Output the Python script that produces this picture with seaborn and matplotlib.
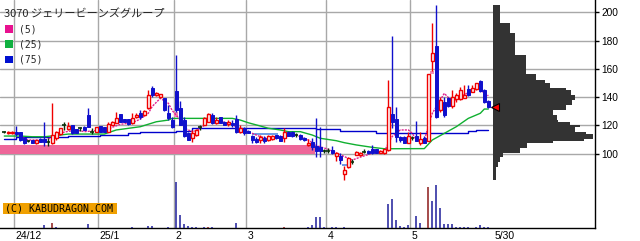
import numpy as np
import pandas as pd
import matplotlib
matplotlib.use("Agg")
import matplotlib.pyplot as plt
import seaborn as sns
from matplotlib.patches import Rectangle

# ---------------- data ----------------
title = "3070 ジェリービーンズグループ"
ma_labels = ["(5)", "(25)", "(75)"]
date_labels = ["24/12", "25/1", "2", "3", "4", "5", "5/30"]
month_start_idx = [3, 24, 43, 61, 81, 102]
last_idx = 121

opens = [115.4, 114.4, 114.5, 115.5, 115.1, 110.9, 109.0, 109.7, 107.4, 110.1,
         110.1, 108.5, 107.5, 110.9, 114.0, 120.3, 117.3, 120.3, 117.3, 118.0,
         119.1, 127.4, 115.6, 115.6, 119.6, 118.7, 115.6, 120.3, 121.9, 128.1,
         124.3, 124.3, 121.5, 125.7, 128.6, 127.4, 132.1, 146.3, 141.8, 140.0,
         139.3, 128.6, 123.8, 144.7, 132.0, 123.5, 115.0, 110.9, 113.2, 119.1,
         120.3, 122.6, 127.4, 121.5, 125.7, 122.6, 121.0, 121.9, 124.3, 115.6,
         118.0, 116.1, 112.7, 110.4, 109.7, 110.9, 109.7, 110.2, 113.0, 112.5,
         110.9, 115.6, 115.6, 113.2, 113.2, 111.3, 105.9, 108.5, 105.4, 104.5,
         102.1, 102.1, 102.6, 98.4, 98.4, 85.6, 90.8, 94.4, 99.1, 98.8,
         101.4, 101.9, 103.1, 103.1, 100.7, 100.3, 102.6, 128.1, 124.6, 111.6,
         112.0, 107.8, 111.3, 112.5, 107.4, 110.9, 109.2, 165.8, 176.2, 130.9,
         136.8, 139.2, 133.8, 138.5, 138.5, 139.7, 145.6, 143.9, 145.6, 151.7,
         145.1, 137.5]
highs = [116.2, 116.0, 116.0, 119.6, 115.5, 111.2, 110.0, 110.0, 110.0, 110.8,
         122.6, 111.0, 135.7, 116.0, 118.3, 122.6, 122.6, 120.6, 117.5, 119.1,
         119.3, 132.6, 118.0, 119.0, 119.9, 119.0, 122.6, 123.0, 129.7, 128.4,
         124.8, 124.6, 129.1, 129.1, 130.9, 131.0, 145.1, 148.0, 143.5, 142.5,
         139.6, 134.5, 126.2, 170.0, 137.0, 126.0, 115.5, 116.8, 117.5, 120.3,
         126.0, 128.5, 128.6, 126.2, 126.0, 123.0, 123.8, 123.8, 127.4, 120.3,
         119.1, 116.5, 113.2, 112.0, 113.0, 112.5, 113.0, 113.0, 113.2, 113.0,
         118.0, 116.0, 116.0, 114.4, 113.6, 111.8, 110.2, 110.9, 125.0, 119.1,
         103.0, 103.8, 105.4, 101.4, 100.3, 91.3, 97.4, 96.0, 101.8, 101.0,
         103.0, 102.3, 106.1, 103.5, 102.5, 103.5, 152.2, 183.3, 133.3, 112.8,
         112.5, 115.5, 112.5, 123.4, 115.6, 112.5, 156.4, 192.7, 205.2, 140.3,
         140.3, 140.3, 145.1, 142.7, 147.0, 148.6, 148.6, 148.6, 150.3, 152.2,
         145.6, 138.0]
lows = [114.6, 114.2, 114.2, 112.7, 109.0, 107.2, 108.2, 107.6, 107.2, 108.2,
        105.4, 105.4, 107.2, 110.0, 113.5, 116.8, 117.0, 114.2, 114.6, 116.3,
        116.5, 118.8, 114.0, 115.3, 115.3, 115.3, 115.3, 120.0, 121.5, 122.3,
        122.3, 120.5, 120.8, 125.4, 124.3, 127.0, 131.8, 140.4, 141.0, 139.7,
        130.5, 123.8, 118.0, 129.7, 120.0, 111.5, 109.5, 108.6, 112.8, 116.8,
        120.0, 122.3, 121.0, 121.2, 121.6, 120.0, 119.6, 119.1, 114.4, 114.4,
        113.2, 114.9, 107.4, 107.8, 107.4, 107.4, 109.3, 109.8, 110.5, 108.8,
        108.5, 112.2, 112.0, 112.0, 109.8, 109.3, 105.5, 102.6, 97.9, 97.9,
        100.7, 100.3, 99.8, 95.0, 92.7, 81.4, 90.0, 92.7, 98.8, 98.5,
        100.3, 100.0, 99.8, 100.4, 100.4, 100.0, 102.2, 118.0, 108.5, 108.5,
        107.5, 107.5, 110.0, 108.8, 106.4, 107.5, 108.8, 158.7, 125.0, 129.7,
        126.2, 133.3, 132.1, 136.8, 138.0, 139.2, 140.8, 143.4, 145.2, 143.9,
        136.1, 132.5]
closes = [115.4, 115.7, 115.6, 114.2, 109.8, 107.5, 109.0, 107.9, 109.7, 108.5,
          108.3, 108.5, 113.1, 115.6, 118.0, 120.3, 119.6, 114.5, 115.0, 118.0,
          116.8, 119.1, 115.6, 118.7, 115.6, 115.6, 120.8, 122.6, 125.0, 122.6,
          122.6, 120.8, 125.0, 127.4, 126.2, 130.5, 141.6, 141.6, 142.8, 142.1,
          130.9, 125.0, 119.1, 131.0, 120.5, 112.3, 110.0, 114.4, 116.8, 119.1,
          125.5, 128.1, 121.9, 123.8, 121.9, 120.3, 122.6, 120.3, 115.6, 118.0,
          114.4, 114.9, 109.7, 108.5, 112.0, 109.2, 112.5, 112.5, 110.9, 109.2,
          115.6, 112.5, 112.5, 113.2, 110.2, 109.7, 107.8, 104.5, 102.1, 102.1,
          102.1, 102.1, 100.3, 100.7, 95.5, 88.5, 96.7, 94.4, 101.4, 100.7,
          101.4, 100.3, 100.7, 100.7, 102.1, 103.1, 132.8, 122.6, 112.0, 109.7,
          107.8, 112.5, 111.3, 109.2, 110.2, 107.8, 156.4, 171.5, 125.8, 138.0,
          127.4, 133.8, 139.9, 141.5, 145.1, 141.5, 141.5, 146.3, 149.8, 144.6,
          136.8, 132.8]
volumes = [0.5, 0.5, 0.5, 0.5, 0.5, 0.5, 0.5, 0.5, 0.5, 0.5,
           3.0, 0.5, 5.5, 1.0, 0.5, 0.5, 0.5, 0.5, 0.5, 0.5,
           0.5, 4.0, 0.5, 0.5, 0.5, 0.5, 0.5, 0.5, 0.5, 0.5,
           0.5, 0.5, 1.0, 0.5, 0.5, 0.5, 2.5, 2.5, 0.5, 0.5,
           0.5, 1.0, 0.5, 46.0, 13.0, 4.0, 2.0, 1.0, 1.0, 0.5,
           1.0, 1.0, 1.0, 0.5, 0.5, 0.5, 0.5, 0.5, 5.5, 0.5,
           0.5, 0.5, 0.5, 0.5, 0.5, 0.5, 0.5, 0.5, 0.5, 0.5,
           1.0, 0.5, 0.5, 0.5, 0.5, 0.5, 1.0, 3.0, 11.0, 11.0,
           1.0, 0.5, 1.0, 1.0, 0.5, 1.0, 0.5, 0.5, 0.5, 0.5,
           0.5, 0.5, 0.5, 0.5, 0.5, 0.5, 24.0, 29.0, 8.0, 2.0,
           1.0, 3.0, 0.5, 12.0, 5.5, 0.5, 41.0, 27.0, 43.0, 20.0,
           4.5, 4.0, 4.0, 1.5, 1.5, 1.5, 1.5, 0.5, 1.0, 3.0,
           1.5, 1.0]
red_volume_idx = [12, 51, 70, 106]

ma5_idx = [4, 6, 8, 10, 11, 13, 15, 18, 20, 23, 25, 27, 29, 32, 34, 36, 37, 39, 41, 42,
           44, 45, 47, 48, 50, 51, 54, 56, 58, 60, 62, 64, 66, 69, 71, 73, 76, 78, 81, 83,
           86, 87, 89, 92, 95, 96, 97, 98, 99, 101, 102, 103, 105, 106, 107, 109, 110, 112,
           114, 116, 118, 120, 121]
ma5_val = [112.0, 109.7, 109.7, 109.2, 110.5, 113.2, 115.3, 116.8, 115.6, 116.3, 116.0,
           118.7, 120.8, 121.9, 124.5, 128.6, 133.5, 139.2, 135.7, 130.5, 123.8, 118.0,
           115.6, 116.3, 120.0, 123.5, 122.8, 121.5, 119.1, 116.5, 114.4, 112.0, 110.9,
           110.9, 112.5, 113.2, 109.7, 105.8, 103.1, 100.6, 96.7, 95.5, 97.6, 100.3,
           101.4, 107.5, 112.3, 114.4, 116.8, 116.8, 114.4, 109.7, 109.7, 119.1, 128.6,
           138.0, 142.7, 136.8, 140.3, 143.2, 146.3, 143.2, 141.0]
ma25_idx = [0, 4, 7, 10, 14, 16, 25, 28, 34, 38, 41, 42, 57, 59, 61, 64, 66, 69, 71, 74,
            77, 79, 83, 85, 88, 92, 95, 105, 107, 110, 113, 116, 119, 120, 121]
ma25_val = [112.5, 112.5, 112.0, 112.0, 113.2, 113.9, 113.9, 116.8, 119.1, 122.6, 123.8,
            125.0, 125.0, 123.8, 121.9, 119.6, 118.0, 116.8, 115.6, 115.6, 113.2, 110.9,
            109.2, 107.8, 106.2, 104.5, 103.5, 103.6, 109.7, 114.4, 119.1, 125.0, 128.6,
            131.6, 131.6]
ma75_idx = [0, 3, 4, 16, 24, 31, 34, 37, 43, 47, 78, 84, 93, 116, 118, 121]
ma75_val = [110.2, 111.5, 112.0, 112.7, 113.2, 114.4, 115.1, 115.6, 116.3, 118.0, 117.3,
            116.3, 114.9, 116.3, 116.8, 116.8]

# volume-by-price profile (price band top / bottom, relative volume)
prof_top = [205.0, 192.5, 185.4, 169.8, 156.4, 152.2, 150.0, 146.5, 145.0, 141.5, 138.0,
            134.5, 131.0, 127.4, 124.0, 122.4, 120.3, 118.9, 115.4, 114.0, 110.4, 109.0,
            107.4, 103.8, 100.3, 97.9, 94.3, 90.8]
prof_bot = prof_top[1:] + [81.4]
prof_vol = [7, 17, 22, 33, 43, 52, 57, 73, 78, 82, 79, 73, 60, 64, 65, 77, 87, 82, 93, 100,
            91, 60, 34, 27, 10, 7, 5, 3]

# price windows (gap) markers: (start idx, end idx, low, high)
gaps_down = [(61.8, 68.5, 113.2, 114.9), (84.5, 85.6, 91.3, 92.7)]
gaps_up = [(42.4, 43.5, 126.2, 129.7), (106.5, 107.5, 156.4, 158.7)]
band = (-1.1, 77.7, 99.6, 106.2)
current_price = 132.8

# ---------------- figure ----------------
sns.set_style("white")
plt.rcParams["font.family"] = ["DejaVu Sans"]

W, H = 640, 241
fig = plt.figure(figsize=(W / 100, H / 100), dpi=100)
fig.patch.set_facecolor("white")
ax = fig.add_axes([0, 13 / H, 595 / W, 228 / H])
ax.set_facecolor("white")

# volume twin axis (created first so the price axis keeps its right ticks)
ax2 = ax.twinx()

ax.set_xlim(-1.075, 147.675)
ax.set_ylim(47.42, 208.77)

grid_col = "#A8A8A8"
for v in range(100, 201, 20):
    ax.axhline(v, color=grid_col, lw=1, zorder=0)
for m in month_start_idx:
    ax.axvline(m - 0.5, color=grid_col, lw=1, zorder=0)

# pink band
ax.fill_between([band[0], band[1]], band[2], band[3], color="#EE6699", lw=0, zorder=1)

# gap markers
for x0, x1, lo, hi in gaps_down:
    ax.fill_between([x0, x1], lo, hi, color="#6E9CE8", lw=0, zorder=1.5)
for x0, x1, lo, hi in gaps_up:
    ax.fill_between([x0, x1], lo, hi, color="#F08AB4", lw=0, zorder=1.5)

# moving averages via seaborn
df5 = pd.DataFrame({"i": ma5_idx, "v": ma5_val})
df25 = pd.DataFrame({"i": ma25_idx, "v": ma25_val})
df75 = pd.DataFrame({"i": ma75_idx, "v": ma75_val})
sns.lineplot(data=df75, x="i", y="v", ax=ax, color="#0000CC", lw=1,
             drawstyle="steps-post", estimator=None, zorder=2)
sns.lineplot(data=df25, x="i", y="v", ax=ax, color="#10B030", lw=1,
             estimator=None, zorder=2)
sns.lineplot(data=df5, x="i", y="v", ax=ax, color="#E0208F", lw=1,
             linestyle=(0, (1.5, 0.8)), estimator=None, zorder=2)

# candles
red = "#F00000"
blue = "#1010CC"
doji = "#0A300A"
bw = 0.8
for i, (o, h, l, c) in enumerate(zip(opens, highs, lows, closes)):
    if abs(c - o) < 0.05:
        ax.vlines(i, l, h, color=doji, lw=1, zorder=3)
        ax.hlines(c, i - 0.5, i + 0.5, color=doji, lw=1.2, zorder=3)
    elif c > o:
        ax.vlines(i, l, h, color=red, lw=1, zorder=3)
        ax.bar(i, c - o, bottom=o, width=bw, facecolor="white", edgecolor=red,
               lw=1.0, zorder=4)
    else:
        ax.vlines(i, l, h, color=blue, lw=1, zorder=3)
        ax.bar(i, o - c, bottom=c, width=bw, facecolor=blue, edgecolor=blue,
               lw=0.7, zorder=4)

# volume-by-price profile
pl = 122.25
centers = [(a + b) / 2 for a, b in zip(prof_top, prof_bot)]
heights = [a - b for a, b in zip(prof_top, prof_bot)]
ax.barh(centers, [w / 4 for w in prof_vol], height=heights, left=pl,
        color="#333333", lw=0, zorder=3)
ax.plot([122.6], [current_price], marker="<", ms=6, mfc="#FF0000", mec="black",
        mew=0.8, zorder=6)

# axes styling
for s in ["top", "left"]:
    ax.spines[s].set_visible(False)
for s in ["right", "bottom"]:
    ax.spines[s].set_color("black")
    ax.spines[s].set_linewidth(1)
ax.yaxis.tick_right()
ax.yaxis.set_label_position("right")
ax.set_yticks(list(range(100, 201, 20)))
ax.set_yticklabels([str(v) for v in range(100, 201, 20)],
                   fontfamily="Liberation Sans", fontsize=7.3)
ax.tick_params(axis="y", which="both", left=False, labelleft=False, right=True,
               labelright=True, length=3, width=1, pad=1.5, colors="black")
ax.set_xticks([])
ax.set_xlabel("")
ax.set_ylabel("")

# x labels
lab_pos = [m - 0.5 for m in month_start_idx] + [last_idx + 1.2]
for lab, p in zip(date_labels, lab_pos):
    ax.text(p + 0.3, -0.035, lab, transform=ax.get_xaxis_transform(), ha="left",
            va="center", fontsize=7.5, fontfamily="Liberation Sans", color="black")

# volume bars
ax2.set_ylim(0, 228)
ax2.axis("off")
vcols = ["#8B1A1A" if i in red_volume_idx else "#1E1E9A" for i in range(len(volumes))]
ax2.vlines(range(len(volumes)), 0, volumes, colors=vcols, lw=1.1)
ax2.set_xlim(-1.075, 147.675)

# legend / title text (pixel-placed)
def px(x, y):
    return x / W, 1 - y / H

fig.text(*px(4, 13.5), title, fontsize=8, va="center", ha="left",
         family=["Noto Sans CJK JP", "DejaVu Sans"])
leg_cols = ["#E8118F", "#10B040", "#0010D0"]
for k, (lab, col) in enumerate(zip(ma_labels, leg_cols)):
    y0 = 25 + 15.3 * k
    fig.add_artist(Rectangle(px(5, y0 + 7.7), 7.7 / W, 7.7 / H, transform=fig.transFigure,
                             facecolor=col, edgecolor="none"))
    fig.text(*px(19, y0 + 4), lab, fontsize=7, va="center", ha="left",
             family="DejaVu Sans Mono")

# watermark
fig.add_artist(Rectangle(px(3.3, 214), 114 / W, 10.7 / H, transform=fig.transFigure,
                         facecolor="#F0A000", edgecolor="none"))
fig.text(*px(5, 208.8), "(C) KABUDRAGON.COM", fontsize=7.2, va="center", ha="left",
         family="DejaVu Sans Mono", color="black")

fig.savefig("out.png", dpi=100, facecolor="white")
